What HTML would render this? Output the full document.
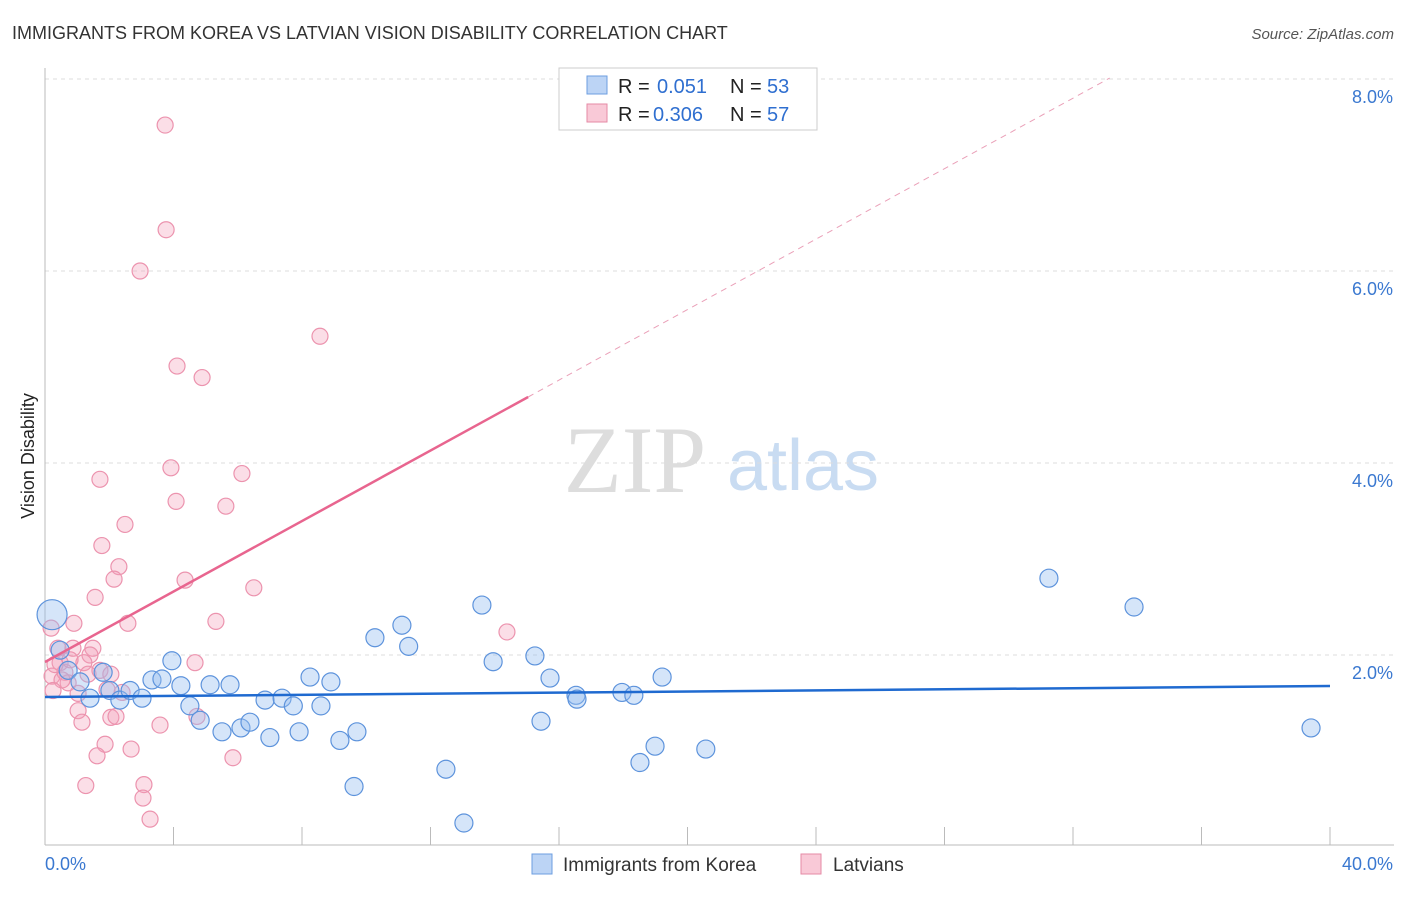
<!DOCTYPE html>
<html><head><meta charset="utf-8"><style>
body{margin:0;background:#fff;font-family:"Liberation Sans",sans-serif;}
</style></head><body>
<svg id="chart" width="1406" height="892" xmlns="http://www.w3.org/2000/svg">
<text x="12" y="39" font-size="18" fill="#333">IMMIGRANTS FROM KOREA VS LATVIAN VISION DISABILITY CORRELATION CHART</text>
<text x="1394" y="39" font-size="15" fill="#555" font-style="italic" text-anchor="end">Source: ZipAtlas.com</text>
<text x="34" y="456" font-size="18" fill="#222" text-anchor="middle" transform="rotate(-90 34 456)">Vision Disability</text>
<g><text x="635" y="492" font-size="95" fill="#ddd" font-family="Liberation Serif,serif" text-anchor="middle">ZIP</text><text x="803" y="490" font-size="72" fill="#c9dcf2" text-anchor="middle">atlas</text></g>
<g id="grid"></g><g id="axes"></g><g id="pts"></g><g id="trend"></g>
<g>
<rect x="559" y="68" width="258" height="62" fill="#fff" stroke="#ccc"/>
<rect x="587" y="76" width="20" height="18" fill="#bcd4f5" stroke="#6c9ee0"/>
<rect x="587" y="104" width="20" height="18" fill="#f9c9d7" stroke="#e58aa6"/>
<text x="618" y="93" font-size="20" fill="#222">R =</text><text x="657" y="93" font-size="20" fill="#2f6fd0">0.051</text>
<text x="730" y="93" font-size="20" fill="#222">N =</text><text x="767" y="93" font-size="20" fill="#2f6fd0">53</text>
<text x="618" y="121" font-size="20" fill="#222">R =</text><text x="653" y="121" font-size="20" fill="#2f6fd0">0.306</text>
<text x="730" y="121" font-size="20" fill="#222">N =</text><text x="767" y="121" font-size="20" fill="#2f6fd0">57</text>
</g>
<g>
<rect x="532" y="854" width="20" height="20" fill="#bcd4f5" stroke="#6c9ee0"/>
<text x="563" y="871" font-size="19" fill="#333">Immigrants from Korea</text>
<rect x="801" y="854" width="20" height="20" fill="#f9c9d7" stroke="#e58aa6"/>
<text x="833" y="871" font-size="19" fill="#333">Latvians</text>
</g>
<text x="45" y="870" font-size="18" fill="#3a78d0">0.0%</text>
<text x="1393" y="870" font-size="18" fill="#3a78d0" text-anchor="end">40.0%</text>
</svg>
<script>
const yTicks=[2,4,6,8];
const koreaX=[0.22,0.47,0.72,1.09,1.40,1.81,2.02,2.33,2.65,3.02,3.33,3.64,3.95,4.23,4.51,4.83,5.14,5.51,5.76,6.10,6.38,6.85,7.00,7.38,7.73,7.91,8.25,8.59,8.90,9.18,9.62,9.71,10.27,11.11,11.32,12.48,13.04,13.60,13.95,15.25,15.44,15.72,16.53,16.56,17.96,18.33,18.52,18.99,19.21,20.57,31.25,33.90,39.41];
const koreaY=[2.42,2.05,1.84,1.72,1.55,1.82,1.63,1.53,1.63,1.55,1.74,1.75,1.94,1.68,1.47,1.32,1.69,1.20,1.69,1.24,1.30,1.53,1.14,1.55,1.47,1.20,1.77,1.47,1.72,1.11,0.63,1.20,2.18,2.31,2.09,0.81,0.25,2.52,1.93,1.99,1.31,1.76,1.58,1.54,1.61,1.58,0.88,1.05,1.77,1.02,2.80,2.50,1.24];
const koreaR=[15].concat(Array(52).fill(9));
const latX=[3.74,3.77,2.96,8.56,4.11,4.89,3.92,6.13,1.71,4.08,5.63,2.49,1.77,2.30,2.15,4.36,6.50,1.56,2.58,0.90,5.32,0.19,14.38,0.40,0.87,1.49,1.40,0.47,1.21,4.67,0.22,0.62,1.34,1.71,2.05,0.72,1.03,1.93,2.40,1.03,1.15,2.05,2.21,4.73,3.58,1.87,1.62,2.68,5.85,3.08,1.27,3.05,3.27,0.31,0.53,0.25,0.78];
const latY=[7.52,6.43,6.00,5.32,5.01,4.89,3.95,3.89,3.83,3.60,3.55,3.36,3.14,2.92,2.79,2.78,2.70,2.60,2.33,2.33,2.35,2.28,2.24,2.07,2.07,2.07,2.00,1.92,1.92,1.92,1.78,1.82,1.80,1.84,1.80,1.71,1.60,1.64,1.61,1.42,1.30,1.35,1.36,1.36,1.27,1.07,0.95,1.02,0.93,0.65,0.64,0.51,0.29,1.90,1.74,1.63,1.95];
const koreaTrend=[1.5625,1.677];
const latTrend=[1.927,4.6875,15.04];
const X0=45,X1=1330,Y0=847,PPY=96;
const sx=v=>X0+(v/40)*(X1-X0), sy=v=>Y0-v*PPY;
const NS="http://www.w3.org/2000/svg";
function mk(p,t,a){const e=document.createElementNS(NS,t);for(const k in a)e.setAttribute(k,a[k]);p.appendChild(e);return e;}
const grid=document.getElementById('grid'),axes=document.getElementById('axes');
yTicks.forEach(t=>{
 const l=mk(grid,'line',{x1:45,x2:1394,y1:sy(t),y2:sy(t),stroke:'#ddd','stroke-dasharray':'4,4'});
 
 
 const tx=mk(grid,'text',{x:1393,y:sy(t)+24,'font-size':18,fill:'#3a78d0','text-anchor':'end'});
 tx.textContent=t.toFixed(1)+'%';
 
 
});
const ax=mk(axes,'line',{x1:45,x2:45,y1:68,y2:845,stroke:'#bbb'});


const bx=mk(axes,'line',{x1:45,x2:1394,y1:845,y2:845,stroke:'#bbb'});


for(let i=1;i<=10;i++){const t=mk(axes,'line',{x1:sx(i*4),x2:sx(i*4),y1:827,y2:845,stroke:'#bbb'});
 
 }
const pts=document.getElementById('pts');
latX.forEach((v,i)=>{const c=mk(pts,'circle',{cx:sx(v),cy:sy(latY[i]),r:8,fill:'rgba(244,160,186,0.35)',stroke:'#ec93ae','stroke-width':1.2});
 
 });
koreaX.forEach((v,i)=>{const c=mk(pts,'circle',{cx:sx(v),cy:sy(koreaY[i]),r:koreaR[i],fill:'rgba(150,190,240,0.4)',stroke:'#5d93dc','stroke-width':1.2});
 
 });
const tr=document.getElementById('trend');
const kl=mk(tr,'line',{x1:sx(0),y1:sy(koreaTrend[0]),x2:sx(40),y2:sy(koreaTrend[1]),stroke:'#1f6ad0','stroke-width':2.5});


const slope=(latTrend[1]-latTrend[0])/latTrend[2];
const ll=mk(tr,'line',{x1:sx(0),y1:sy(latTrend[0]),x2:sx(latTrend[2]),y2:sy(latTrend[1]),stroke:'#e8658f','stroke-width':2.5});


const yEnd=8.01;
const xe=(yEnd-latTrend[0])/slope;
const ld=mk(tr,'line',{x1:sx(latTrend[2]),y1:sy(latTrend[1]),x2:sx(xe),y2:sy(yEnd),stroke:'#eaa0b8','stroke-width':1,'stroke-dasharray':'6,5'});


</script>
</body></html>
